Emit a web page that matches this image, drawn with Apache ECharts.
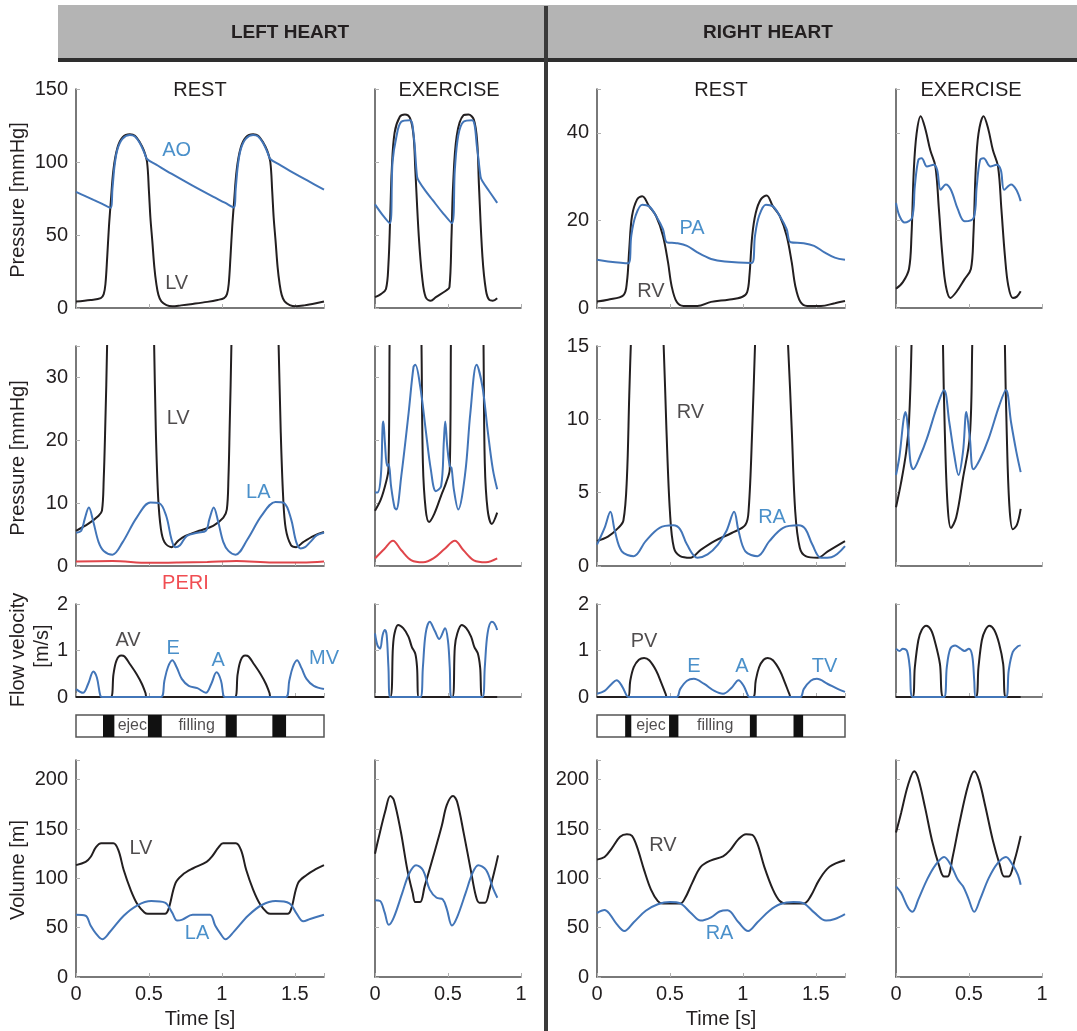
<!DOCTYPE html>
<html>
<head>
<meta charset="utf-8">
<script src="https://cdn.jsdelivr.net/npm/echarts@6/dist/echarts.min.js"></script>
<style>
  html, body { margin: 0; padding: 0; background: #fff; }
  #main { width: 1077px; height: 1031px; }
</style>
</head>
<body>
<div id="main"></div>
<script>
// ---- left heart, rest ----
const lvPresRest = [[0,4.4],[0.1,5.5],[0.17,6.8],[0.19,9.5],[0.202,16.6],[0.214,35],[0.226,56],[0.238,72],[0.257,95],[0.285,110],[0.32,117],[0.369,119],[0.404,118],[0.44,113],[0.465,108],[0.487,100],[0.5,80],[0.51,62],[0.523,46],[0.537,28],[0.55,17],[0.565,9],[0.585,4.5],[0.62,2],[0.66,1.2],[0.72,1.8],[0.8,2.8],[0.9,4.2],[0.97,5.5],[1.015,6.8],[1.035,9.5],[1.047,16.6],[1.059,35],[1.071,56],[1.083,72],[1.102,95],[1.13,110],[1.165,117],[1.214,119],[1.249,118],[1.285,113],[1.31,108],[1.332,100],[1.345,80],[1.355,62],[1.368,46],[1.382,28],[1.395,17],[1.41,9],[1.43,4.5],[1.465,2],[1.505,1.2],[1.565,1.8],[1.645,3.2],[1.7,4.4]];
const aoPresRest = [[0,79.5],[0.06,76.8],[0.12,74],[0.18,71.3],[0.236,68.7],[0.25,82],[0.265,98],[0.285,109],[0.32,116],[0.369,118.5],[0.404,117.5],[0.44,112.5],[0.47,106],[0.487,102],[0.55,98.2],[0.654,92],[0.796,84],[0.939,76.3],[1.02,72.1],[1.081,68.8],[1.095,82],[1.11,98],[1.13,109],[1.165,116],[1.214,118.5],[1.249,117.5],[1.285,112.5],[1.315,106],[1.332,102],[1.395,98.2],[1.5,92],[1.6,86.5],[1.7,81]];
const lvLowRest = [[0,5.6],[0.083,6.7],[0.155,8],[0.178,8.8],[0.19,13.8],[0.2,21.7],[0.214,36],[0.25,90],[0.35,119],[0.45,112],[0.5,80],[0.525,45],[0.535,36],[0.547,21.7],[0.563,11],[0.582,5.9],[0.606,3.8],[0.654,3],[0.7,4],[0.75,4.8],[0.844,5.6],[0.94,6.4],[1.01,7.7],[1.034,9],[1.045,14],[1.053,21.7],[1.066,36],[1.1,90],[1.2,119],[1.3,112],[1.35,80],[1.375,45],[1.388,36],[1.403,21.7],[1.42,11],[1.438,5.9],[1.474,3.3],[1.51,3],[1.557,3.8],[1.63,4.8],[1.7,5.4]];
const laPresRest = [[0,5.3],[0.036,5.6],[0.06,7.5],[0.088,9.3],[0.119,7],[0.155,3.8],[0.19,2.4],[0.25,1.8],[0.32,3.8],[0.416,7.7],[0.51,10.1],[0.57,10],[0.618,8],[0.654,4.3],[0.68,3],[0.713,3.3],[0.76,4.8],[0.832,5.3],[0.89,5.6],[0.915,7.5],[0.944,9.3],[0.975,7],[1.01,3.8],[1.045,2.4],[1.094,1.8],[1.177,4.3],[1.272,8],[1.367,10.2],[1.427,10],[1.474,7.5],[1.51,3.8],[1.54,2.8],[1.57,3],[1.605,3.8],[1.652,4.9],[1.7,5.3]];
const periRest = [[0,0.7],[0.25,0.8],[0.5,0.5],[0.7,0.55],[0.9,0.65],[1.1,0.8],[1.35,0.55],[1.55,0.55],[1.7,0.7]];
const avFlowRest = [[0,0],[0.238,0],[0.257,0.49],[0.278,0.79],[0.31,0.89],[0.333,0.87],[0.369,0.71],[0.416,0.49],[0.452,0.28],[0.476,0.09],[0.487,0],[1.089,0],[1.108,0.49],[1.129,0.79],[1.16,0.89],[1.183,0.87],[1.219,0.71],[1.266,0.49],[1.302,0.28],[1.326,0.09],[1.337,0],[1.7,0]];
const mvFlowRest = [[0,0.17],[0.048,0.09],[0.083,0.28],[0.119,0.55],[0.143,0.42],[0.166,0.04],[0.178,0],[0.4,0],[0.582,0],[0.606,0.35],[0.63,0.64],[0.66,0.79],[0.69,0.64],[0.725,0.39],[0.773,0.24],[0.832,0.19],[0.89,0.09],[0.927,0.28],[0.963,0.53],[0.994,0.35],[1.01,0.04],[1.022,0],[1.25,0],[1.438,0],[1.462,0.35],[1.486,0.64],[1.515,0.79],[1.546,0.62],[1.58,0.39],[1.63,0.24],[1.7,0.17]];
const lvVolRest = [[0,113.4],[0.066,116.7],[0.1,121.7],[0.137,131.6],[0.173,135.5],[0.256,135.5],[0.291,128.3],[0.327,108.4],[0.374,88.6],[0.421,73.7],[0.469,65.5],[0.492,64.1],[0.61,64.1],[0.634,68.8],[0.682,95.2],[0.729,103.5],[0.8,110],[0.895,116.7],[0.93,121.7],[0.978,131.6],[1.008,135.5],[1.096,135.5],[1.132,128.3],[1.167,108.4],[1.214,88.6],[1.262,73.7],[1.309,65.5],[1.333,64.1],[1.451,64.1],[1.475,68.8],[1.522,95.2],[1.581,103.5],[1.64,109],[1.7,113.4]];
const laVolRest = [[0,63.1],[0.066,62.1],[0.1,52.2],[0.137,44],[0.18,38.3],[0.232,45.6],[0.327,62.1],[0.421,72.7],[0.516,77],[0.61,75.4],[0.658,65.5],[0.694,57.2],[0.729,58.2],[0.8,63.1],[0.918,63.1],[0.954,52.2],[0.99,44],[1.025,38.3],[1.084,46.3],[1.179,62.1],[1.274,73],[1.368,77],[1.463,74.7],[1.51,64.8],[1.558,56.5],[1.605,58.8],[1.7,63.1]];

// ---- left heart, exercise ----
const lvPresEx = [[0,7.4],[0.04,9.5],[0.075,13],[0.092,30],[0.104,62],[0.115,95],[0.134,120],[0.17,131],[0.205,132.5],[0.24,130],[0.264,118],[0.276,95],[0.3,49],[0.323,21],[0.347,7.4],[0.382,5],[0.417,7.4],[0.488,12],[0.51,14.3],[0.524,49],[0.535,84],[0.56,118],[0.606,132],[0.64,132.5],[0.677,129],[0.7,113.6],[0.712,84],[0.736,35],[0.76,12],[0.783,5.5],[0.807,5],[0.837,6.7]];
const aoPresEx = [[0,71],[0.05,64],[0.102,58],[0.12,100],[0.146,117],[0.18,127.5],[0.24,128.6],[0.265,118],[0.288,90],[0.3,87],[0.347,80],[0.394,74],[0.465,65],[0.527,58],[0.547,95],[0.57,118],[0.606,127.5],[0.665,128.6],[0.7,109],[0.723,90],[0.735,87],[0.782,80],[0.837,72]];
const lvLowEx = [[0,8.8],[0.04,10.6],[0.075,13.3],[0.092,15.4],[0.1,36],[0.12,90],[0.2,130],[0.3,60],[0.318,36],[0.328,16.4],[0.347,9],[0.37,7],[0.406,8.3],[0.453,11.2],[0.488,13.3],[0.512,15.4],[0.52,36],[0.54,90],[0.62,130],[0.73,60],[0.743,36],[0.752,16.4],[0.771,9],[0.8,6.7],[0.837,8.5]];
const laPresEx = [[0,11.7],[0.017,11.7],[0.04,14.3],[0.052,22.2],[0.057,23],[0.068,19.6],[0.083,15.9],[0.094,16.2],[0.11,12.7],[0.134,9.3],[0.146,9],[0.18,14.3],[0.23,24.3],[0.264,31.7],[0.276,32],[0.31,28.5],[0.347,21.7],[0.382,15.4],[0.417,11.9],[0.453,12.7],[0.472,20],[0.481,23],[0.495,19],[0.512,15.9],[0.524,15.6],[0.54,12.2],[0.57,9],[0.618,14.8],[0.653,24.3],[0.696,32],[0.736,28.5],[0.771,21.7],[0.807,15.4],[0.837,12.2]];
const periEx = [[0,1.2],[0.064,2.7],[0.123,4],[0.18,2.5],[0.25,0.9],[0.33,0.6],[0.4,1.2],[0.476,2.7],[0.547,4],[0.606,2.5],[0.677,0.9],[0.76,0.6],[0.837,1.2]];
const avFlowEx = [[0,0],[0.104,0],[0.123,1.08],[0.134,1.37],[0.158,1.55],[0.193,1.48],[0.229,1.3],[0.252,1.08],[0.276,0.93],[0.288,0.64],[0.3,0],[0.53,0],[0.547,1.08],[0.564,1.37],[0.594,1.55],[0.625,1.48],[0.658,1.3],[0.68,1.08],[0.705,0.93],[0.72,0.64],[0.736,0],[0.837,0]];
const mvFlowEx = [[0,1.37],[0.017,1.11],[0.035,1.04],[0.052,1.33],[0.068,1.44],[0.08,1.33],[0.092,0.64],[0.104,0],[0.2,0],[0.311,0],[0.328,0.64],[0.347,1.37],[0.375,1.62],[0.41,1.42],[0.44,1.25],[0.48,1.48],[0.5,1.2],[0.512,0.64],[0.522,0],[0.63,0],[0.736,0],[0.752,0.64],[0.771,1.37],[0.8,1.62],[0.818,1.58],[0.837,1.44]];
const lvVolEx = [[0,125],[0.023,139.8],[0.07,168],[0.105,183.5],[0.129,179.5],[0.176,148],[0.222,108.4],[0.258,85.3],[0.276,76],[0.309,76],[0.34,91.9],[0.398,121.7],[0.457,153],[0.492,174.5],[0.534,183.5],[0.562,177.9],[0.609,144.8],[0.656,108.4],[0.691,82],[0.714,75.4],[0.754,75.4],[0.785,88.6],[0.82,108.4],[0.843,123.3]];
const laVolEx = [[0,77.7],[0.035,77],[0.066,65.5],[0.094,52.9],[0.129,60.5],[0.187,85.3],[0.234,105],[0.281,113.4],[0.328,108.4],[0.375,88.6],[0.422,80.3],[0.464,78.7],[0.492,68.8],[0.527,52.2],[0.562,60.5],[0.621,85.3],[0.667,105],[0.707,113.4],[0.761,108.4],[0.808,90.2],[0.838,80.3]];

// ---- right heart, rest ----
const rvPresRest = [[0,1.5],[0.075,1.9],[0.181,2.9],[0.205,5.9],[0.221,13.4],[0.24,21],[0.275,24.8],[0.31,25.5],[0.358,23.2],[0.405,21],[0.452,16.5],[0.487,10.4],[0.511,5.1],[0.546,1.4],[0.593,0.45],[0.688,0.45],[0.782,1.4],[0.9,1.9],[0.994,2.5],[1.029,3.6],[1.045,7.4],[1.064,16.5],[1.088,21.7],[1.123,24.8],[1.163,25.7],[1.206,23.2],[1.253,21],[1.3,16.5],[1.335,10.4],[1.359,5.1],[1.394,1.4],[1.44,0.45],[1.535,0.45],[1.63,1.1],[1.7,1.6]];
const paPresRest = [[0,11],[0.075,10.6],[0.215,10.2],[0.235,16.5],[0.264,21],[0.31,23.6],[0.358,23.2],[0.405,21],[0.452,18],[0.48,15],[0.546,14.8],[0.617,14.2],[0.688,12.7],[0.782,11.2],[0.876,10.6],[1.062,10.3],[1.083,16.5],[1.111,21],[1.158,23.6],[1.206,23.2],[1.253,21],[1.3,18],[1.328,15],[1.417,14.8],[1.488,14.2],[1.559,12.7],[1.63,11.5],[1.7,11]];
const rvLowRest = [[0,1.7],[0.075,2],[0.146,2.6],[0.181,3.1],[0.205,6],[0.221,11.6],[0.235,16],[0.26,22],[0.35,25],[0.44,18],[0.457,15],[0.476,9.3],[0.5,3.7],[0.527,1.24],[0.57,0.67],[0.64,0.56],[0.711,1.1],[0.805,1.7],[0.923,2.25],[1.017,2.8],[1.04,3.9],[1.064,9.3],[1.083,15],[1.1,20],[1.2,25],[1.29,18],[1.31,15],[1.335,9.3],[1.359,3.7],[1.39,1.24],[1.43,0.67],[1.512,0.56],[1.582,1],[1.7,1.7]];
const raPresRest = [[0,1.46],[0.052,2.6],[0.092,3.7],[0.122,2.4],[0.17,1],[0.252,0.67],[0.334,1.7],[0.429,2.6],[0.523,2.77],[0.57,2.5],[0.617,1.46],[0.688,0.56],[0.758,0.79],[0.829,1.46],[0.888,2.4],[0.94,3.7],[0.97,2.4],[1.017,1],[1.1,0.67],[1.182,1.7],[1.276,2.6],[1.382,2.77],[1.43,2.5],[1.476,1.46],[1.535,0.56],[1.606,0.6],[1.7,1.35]];
const pvFlowRest = [[0,0],[0.212,0],[0.228,0.35],[0.252,0.64],[0.287,0.8],[0.323,0.84],[0.358,0.79],[0.405,0.57],[0.44,0.31],[0.471,0.06],[0.48,0],[1.069,0],[1.088,0.35],[1.111,0.64],[1.142,0.8],[1.17,0.84],[1.206,0.79],[1.253,0.57],[1.288,0.31],[1.319,0.06],[1.33,0],[1.7,0]];
const tvFlowRest = [[0,0.07],[0.052,0.13],[0.1,0.28],[0.134,0.36],[0.17,0.24],[0.205,0.02],[0.217,0],[0.4,0],[0.546,0],[0.57,0.17],[0.617,0.35],[0.664,0.39],[0.735,0.28],[0.805,0.13],[0.864,0.07],[0.923,0.2],[0.97,0.36],[1.005,0.24],[1.036,0.02],[1.045,0],[1.25,0],[1.394,0],[1.417,0.17],[1.465,0.35],[1.507,0.39],[1.582,0.28],[1.653,0.17],[1.7,0.11]];
const rvVolRest = [[0,119],[0.052,121.7],[0.099,130],[0.158,142.1],[0.205,144.8],[0.24,143.1],[0.275,131.6],[0.323,108.4],[0.37,88.6],[0.417,77],[0.452,74.4],[0.57,74.4],[0.605,80.3],[0.652,95.2],[0.711,111.7],[0.782,118.3],[0.864,122.3],[0.911,128.3],[0.97,139.8],[1.022,144.8],[1.064,144.1],[1.1,134.9],[1.147,111.7],[1.206,88.6],[1.253,77],[1.3,74.4],[1.417,74.4],[1.465,82],[1.523,98.5],[1.594,111.7],[1.7,118.3]];
const raVolRest = [[0,64.8],[0.052,67.8],[0.087,63.8],[0.134,53.9],[0.188,46.6],[0.252,55.5],[0.334,67.1],[0.417,73.7],[0.5,76],[0.57,74.7],[0.64,65.5],[0.711,57.2],[0.782,60.5],[0.84,66.4],[0.895,67.6],[0.97,55.5],[1.036,46.6],[1.1,55.5],[1.182,67.1],[1.253,73.7],[1.347,76],[1.417,74.7],[1.488,65.5],[1.57,57.2],[1.63,58.8],[1.7,63.8]];

// ---- right heart, exercise ----
const rvPresEx = [[0,4.4],[0.047,5.9],[0.089,8.9],[0.106,16.5],[0.122,31.5],[0.141,39.8],[0.169,43.8],[0.2,41],[0.235,36],[0.27,32.3],[0.294,22.5],[0.318,11.9],[0.341,5.1],[0.372,2.3],[0.412,3.6],[0.47,6.6],[0.513,8.9],[0.53,16.5],[0.546,31.5],[0.565,39.8],[0.6,43.8],[0.631,41],[0.664,36],[0.699,32.3],[0.722,22.5],[0.746,11.9],[0.769,5.1],[0.8,2.3],[0.828,2.6],[0.854,3.8]];
const paPresEx = [[0,24],[0.024,21],[0.059,19.5],[0.11,20.6],[0.129,27.8],[0.153,33.8],[0.176,34.2],[0.212,32.3],[0.259,32.7],[0.282,31.5],[0.306,27],[0.341,28.2],[0.376,27],[0.424,22.5],[0.47,19.8],[0.532,20.6],[0.553,27.8],[0.576,33.8],[0.6,34.2],[0.647,32.3],[0.689,32.7],[0.718,31.5],[0.741,27],[0.788,28.2],[0.824,27],[0.854,24.4]];
const rvLowEx = [[0,4],[0.035,5.7],[0.07,7.8],[0.089,9.8],[0.106,15],[0.12,25],[0.2,40],[0.31,25],[0.322,15],[0.334,9.3],[0.353,4.2],[0.376,2.6],[0.412,3.3],[0.459,6],[0.506,8.9],[0.522,15],[0.54,25],[0.62,40],[0.735,25],[0.746,15],[0.758,9.3],[0.776,4.2],[0.8,2.5],[0.828,2.8],[0.854,3.9]];
const raPresEx = [[0,6.2],[0.024,7.5],[0.052,10],[0.066,10.5],[0.082,9.3],[0.099,7.1],[0.118,6.6],[0.165,7.5],[0.212,8.7],[0.282,10.9],[0.329,12],[0.365,9.8],[0.4,7.5],[0.428,6.2],[0.459,7.8],[0.482,10.5],[0.506,8.7],[0.53,6.6],[0.576,7.3],[0.635,8.7],[0.706,10.9],[0.753,12],[0.788,9.8],[0.824,7.8],[0.854,6.4]];
const pvFlowEx = [[0,0],[0.113,0],[0.129,0.64],[0.153,1.22],[0.176,1.44],[0.207,1.53],[0.24,1.44],[0.27,1.15],[0.301,0.71],[0.325,0],[0.546,0],[0.565,0.64],[0.588,1.22],[0.612,1.44],[0.64,1.53],[0.673,1.44],[0.706,1.15],[0.734,0.71],[0.753,0],[0.854,0]];
const tvFlowEx = [[0,1.04],[0.024,0.99],[0.047,1.04],[0.075,0.99],[0.094,0.64],[0.113,0],[0.22,0],[0.329,0],[0.348,0.64],[0.372,1.04],[0.405,1.11],[0.442,1.04],[0.47,0.99],[0.499,1.04],[0.522,0.89],[0.536,0.35],[0.546,0],[0.65,0],[0.753,0],[0.772,0.57],[0.8,0.97],[0.835,1.09],[0.854,1.11]];
const rvVolEx = [[0,146.4],[0.035,166.3],[0.082,194.4],[0.125,208.6],[0.153,201],[0.2,171.2],[0.247,138.2],[0.294,113.4],[0.329,101.8],[0.353,101.8],[0.388,121.7],[0.435,156.4],[0.494,194.4],[0.536,208.6],[0.569,199.3],[0.612,172.9],[0.664,138.2],[0.711,113.4],[0.741,101.8],[0.772,101.8],[0.812,118.3],[0.854,143.1]];
const raVolEx = [[0,91.9],[0.035,85.3],[0.082,70.4],[0.113,66.1],[0.153,78.7],[0.212,98.5],[0.27,113.4],[0.329,121.7],[0.376,113.4],[0.424,98.5],[0.459,91.9],[0.494,80.3],[0.536,66.1],[0.576,78.7],[0.635,100.2],[0.694,115],[0.753,121.7],[0.8,113.4],[0.835,103.5],[0.854,93.6]];

// phase strips (start, end in s)
const phaseBlocksLeft = [[0.185,0.263],[0.493,0.588],[1.026,1.102],[1.346,1.44]];
const phaseBlocksRight = [[0.193,0.235],[0.494,0.558],[1.048,1.095],[1.347,1.413]];
const phaseTextLeft = [['ejec',0.386],['filling',0.827]];
const phaseTextRight = [['ejec',0.37],['filling',0.81]];

// axis ranges
const yMaxLeft = [150, 35, 2, 220];
const yStepLeft = [50, 10, 1, 50];
const yMaxRight = [50, 15, 2, 220];
const yStepRight = [20, 5, 1, 50];
const xMaxRest = 1.7;
const xMaxEx = 1;

const BLACK = '#231f20', BLUE = '#4275b8', BLUE_TXT = '#1d74bd', RED = '#e0464b', RED_TXT = '#ec2027';
const FONT = '"Liberation Sans", Arial, Helvetica, sans-serif';

// layout (px)
const colLeft = [76, 375, 597, 896];
const colWidth = [248, 146, 248, 146];
const rowTop = [89, 346, 604, 760];
const rowHeight = [219, 220, 93, 217];

const panels = [
  {row:0, col:0, lines:[[lvPresRest,BLACK],[aoPresRest,BLUE]], labels:[['AO',0.69,108,BLUE_TXT],['LV',0.69,17,BLACK]]},
  {row:0, col:1, lines:[[lvPresEx,BLACK],[aoPresEx,BLUE]], labels:[]},
  {row:1, col:0, lines:[[lvLowRest,BLACK],[laPresRest,BLUE],[periRest,RED]], labels:[['LV',0.70,23.5,BLACK],['LA',1.25,11.7,BLUE_TXT],['PERI',0.75,-2.8,RED_TXT]]},
  {row:1, col:1, lines:[[lvLowEx,BLACK],[laPresEx,BLUE],[periEx,RED]], labels:[]},
  {row:2, col:0, lines:[[avFlowRest,BLACK],[mvFlowRest,BLUE]], labels:[['AV',0.357,1.22,BLACK],['E',0.666,1.04,BLUE_TXT],['A',0.975,0.79,BLUE_TXT],['MV',1.70,0.82,BLUE_TXT]]},
  {row:2, col:1, lines:[[avFlowEx,BLACK],[mvFlowEx,BLUE]], labels:[]},
  {row:3, col:0, lines:[[lvVolRest,BLACK],[laVolRest,BLUE]], labels:[['LV',0.445,130,BLACK],['LA',0.83,44,BLUE_TXT]]},
  {row:3, col:1, lines:[[lvVolEx,BLACK],[laVolEx,BLUE]], labels:[]},
  {row:0, col:2, lines:[[rvPresRest,BLACK],[paPresRest,BLUE]], labels:[['PA',0.652,18.1,BLUE_TXT],['RV',0.37,3.8,BLACK]]},
  {row:0, col:3, lines:[[rvPresEx,BLACK],[paPresEx,BLUE]], labels:[]},
  {row:1, col:2, lines:[[rvLowRest,BLACK],[raPresRest,BLUE]], labels:[['RV',0.64,10.5,BLACK],['RA',1.2,3.3,BLUE_TXT]]},
  {row:1, col:3, lines:[[rvLowEx,BLACK],[raPresEx,BLUE]], labels:[]},
  {row:2, col:2, lines:[[pvFlowRest,BLACK],[tvFlowRest,BLUE]], labels:[['PV',0.323,1.19,BLACK],['E',0.664,0.65,BLUE_TXT],['A',0.994,0.65,BLUE_TXT],['TV',1.56,0.65,BLUE_TXT]]},
  {row:2, col:3, lines:[[pvFlowEx,BLACK],[tvFlowEx,BLUE]], labels:[]},
  {row:3, col:2, lines:[[rvVolRest,BLACK],[raVolRest,BLUE]], labels:[['RV',0.452,133,BLACK],['RA',0.84,44,BLUE_TXT]]},
  {row:3, col:3, lines:[[rvVolEx,BLACK],[raVolEx,BLUE]], labels:[]}
];

function stepFormatter(step) {
  return function (v) {
    const k = v / step;
    return Math.abs(k - Math.round(k)) < 1e-6 ? String(+v.toFixed(2)) : '';
  };
}

const axisLineStyle = { color: '#4d4d4d', width: 1.5 };
const tickStyle = { color: '#b0b0b0', width: 1 };

const grids = [], xAxes = [], yAxes = [], series = [];

panels.forEach(function (p, i) {
  const isLeftHeart = p.col < 2;
  const isRest = p.col % 2 === 0;
  grids.push({ left: colLeft[p.col], top: rowTop[p.row], width: colWidth[p.col], height: rowHeight[p.row], outerBoundsMode: 'none' });
  xAxes.push({
    type: 'value', gridIndex: i, min: 0, max: isRest ? xMaxRest : xMaxEx, interval: 0.5,
    axisLine: { show: true, onZero: false, lineStyle: axisLineStyle },
    axisTick: { show: true, inside: true, length: 4, lineStyle: tickStyle },
    axisLabel: { show: p.row === 3, formatter: stepFormatter(0.5), fontSize: 20, color: BLACK, fontFamily: FONT, margin: 7 },
    splitLine: { show: false }
  });
  const ymax = isLeftHeart ? yMaxLeft[p.row] : yMaxRight[p.row];
  const ystep = isLeftHeart ? yStepLeft[p.row] : yStepRight[p.row];
  yAxes.push({
    type: 'value', gridIndex: i, min: 0, max: ymax, interval: ystep,
    axisLine: { show: true, onZero: false, lineStyle: axisLineStyle },
    axisTick: { show: true, inside: true, length: 4, lineStyle: tickStyle },
    axisLabel: { show: isRest, formatter: stepFormatter(ystep), fontSize: 20, color: BLACK, fontFamily: FONT, margin: 8 },
    splitLine: { show: false }
  });
  p.lines.forEach(function (ln) {
    series.push({
      type: 'line', xAxisIndex: i, yAxisIndex: i, data: ln[0], showSymbol: false, symbol: 'none',
      smooth: 0.35, clip: true,
      lineStyle: { color: ln[1], width: 2 }, silent: true
    });
  });
  if (p.labels.length) {
    series.push({
      type: 'scatter', xAxisIndex: i, yAxisIndex: i, clip: false, symbolSize: 1, silent: true,
      itemStyle: { color: 'rgba(0,0,0,0)' },
      data: p.labels.map(function (l) {
        return { name: l[0], value: [l[1], l[2]], label: { color: l[3] } };
      }),
      label: { show: true, position: 'inside', formatter: '{b}', fontSize: 20, fontFamily: FONT }
    });
  }
});

// phase strips
[[phaseBlocksLeft, phaseTextLeft, 0], [phaseBlocksRight, phaseTextRight, 2]].forEach(function (ph) {
  const gi = grids.length;
  grids.push({ left: colLeft[ph[2]], top: 715, width: colWidth[ph[2]], height: 22, outerBoundsMode: 'none' });
  xAxes.push({ type: 'value', gridIndex: gi, min: 0, max: xMaxRest, show: false });
  yAxes.push({ type: 'value', gridIndex: gi, min: 0, max: 1, show: false });
  series.push({
    type: 'custom', xAxisIndex: gi, yAxisIndex: gi, silent: true,
    data: [[0, xMaxRest, 0]].concat(ph[0].map(function (b) { return [b[0], b[1], 1]; })),
    renderItem: function (params, api) {
      const a = api.coord([api.value(0), 1]);
      const b = api.coord([api.value(1), 0]);
      const shape = { x: a[0], y: a[1], width: b[0] - a[0], height: b[1] - a[1] };
      if (api.value(2) === 0) {
        return { type: 'rect', shape: shape, style: { fill: '#fff', stroke: '#555', lineWidth: 1.5 } };
      }
      return { type: 'rect', shape: shape, style: { fill: '#111' } };
    }
  });
  series.push({
    type: 'scatter', xAxisIndex: gi, yAxisIndex: gi, symbolSize: 1, silent: true, clip: false,
    itemStyle: { color: 'rgba(0,0,0,0)' },
    data: ph[1].map(function (t) { return { name: t[0], value: [t[1], 0.5] }; }),
    label: { show: true, position: 'inside', formatter: '{b}', fontSize: 16, color: BLACK, fontFamily: FONT }
  });
});

function txt(text, x, y, opts) {
  opts = opts || {};
  return {
    type: 'text', x: x, y: y, rotation: opts.rot || 0, silent: true, z: 10,
    style: { text: text, fill: opts.color || BLACK, fontSize: opts.size || 20, fontFamily: FONT,
      fontWeight: opts.weight || 'normal', align: 'center', verticalAlign: 'middle' }
  };
}

const graphics = [
  { type: 'rect', shape: { x: 58, y: 5, width: 1019, height: 54 }, style: { fill: '#b4b4b4' }, silent: true },
  { type: 'rect', shape: { x: 58, y: 58, width: 1019, height: 4 }, style: { fill: '#2e2e2e' }, silent: true },
  { type: 'rect', shape: { x: 544, y: 6, width: 4, height: 1025 }, style: { fill: '#3a3a3a' }, silent: true, z: 11 },
  txt('LEFT HEART', 290, 33, { weight: 'bold', size: 19 }),
  txt('RIGHT HEART', 768, 33, { weight: 'bold', size: 19 }),
  txt('REST', 200, 90), txt('EXERCISE', 449, 90),
  txt('REST', 721, 90), txt('EXERCISE', 971, 90),
  txt('Pressure [mmHg]', 18, 200, { rot: Math.PI / 2 }),
  txt('Pressure [mmHg]', 18, 458, { rot: Math.PI / 2 }),
  txt('Flow velocity', 18, 650, { rot: Math.PI / 2 }),
  txt('[m/s]', 42, 646, { rot: Math.PI / 2 }),
  txt('Volume [m]', 18, 870, { rot: Math.PI / 2 }),
  txt('Time [s]', 200, 1019), txt('Time [s]', 721, 1019)
];

const chart = echarts.init(document.getElementById('main'), null, { renderer: 'canvas' });
chart.setOption({
  animation: false,
  backgroundColor: '#fff',
  grid: grids,
  xAxis: xAxes,
  yAxis: yAxes,
  series: series,
  graphic: graphics
});
</script>
</body>
</html>
